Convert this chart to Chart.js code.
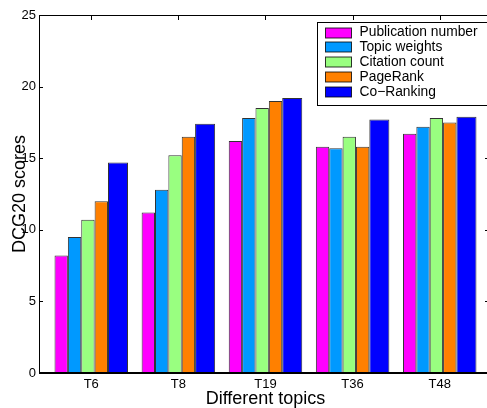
<!DOCTYPE html>
<html>
<head>
<meta charset="utf-8">
<script src="https://cdn.jsdelivr.net/npm/chart.js@4.4.0/dist/chart.umd.min.js"></script>
<style>
  html, body { margin: 0; padding: 0; background: #fff; overflow: hidden; }
  #wrap { width: 496px; height: 408px; }
</style>
</head>
<body>
<div id="wrap"><canvas id="chart" width="496" height="408"></canvas></div>
<script>
// data
var topics = ['T6', 'T8', 'T19', 'T36', 'T48'];
var pubNumber = [8.2, 11.2, 16.2, 15.8, 16.7];
var topicWeights = [9.5, 12.8, 17.8, 15.7, 17.2];
var citationCount = [10.7, 15.2, 18.5, 16.5, 17.8];
var pageRank = [12.0, 16.5, 19.0, 15.8, 17.5];
var coRanking = [14.7, 17.4, 19.2, 17.7, 17.9];
var seriesNames = ['Publication number', 'Topic weights', 'Citation count', 'PageRank', 'Co\u2212Ranking'];
var yTicks = [0, 5, 10, 15, 20, 25];

var colors = ['#ff00ff', '#0099ff', '#99ff80', '#ff8000', '#0000ff'];
var FONT = '"Liberation Sans", Arial, Helvetica, sans-serif';

// matlab-ish group: 4 narrow bars + a wider last one, group centred on the tick
var groupPct = 0.767;
var narrow = groupPct / 5;          // one narrow bar, in category units
var groupShift = narrow * 0.25;     // bars sit a quarter bar left of the tick

Chart.defaults.font.family = FONT;
Chart.defaults.color = '#000';

function toPoints(vals) {
    return vals.map(function(v, i) { return { x: i + 1, y: v }; });
}

var allSeries = [pubNumber, topicWeights, citationCount, pageRank, coRanking];
var datasets = allSeries.map(function(vals, k) {
    var last = k === allSeries.length - 1;
    return {
        label: seriesNames[k],
        data: toPoints(vals),
        backgroundColor: colors[k],
        borderColor: 'rgba(0,0,0,0.8)',
        borderWidth: 1,
        borderSkipped: 'start',
        categoryPercentage: last ? groupPct * 1.125 : groupPct,
        barPercentage: last ? 4 / 3 : 1
    };
});

// box, inward ticks and legend drawn like the matlab axes
var frame = {
    id: 'frame',
    afterDatasetsDraw: function(chart) {
        var ctx = chart.ctx, a = chart.chartArea;
        var xs = chart.scales.x, ys = chart.scales.y;
        ctx.save();
        ctx.strokeStyle = '#000';
        ctx.lineWidth = 1;
        ctx.beginPath();
        ctx.moveTo(a.left + 0.5, a.bottom);
        ctx.lineTo(a.left + 0.5, a.top + 0.5);
        ctx.lineTo(a.right + 0.5, a.top + 0.5);
        ctx.lineTo(a.right + 0.5, a.bottom);
        topics.forEach(function(t, i) {
            var px = Math.round(xs.getPixelForValue(i + 1 + groupShift)) + 0.5;
            ctx.moveTo(px, a.top);
            ctx.lineTo(px, a.top + 5);
        });
        yTicks.forEach(function(v) {
            var py = Math.round(ys.getPixelForValue(v)) + 0.5;
            ctx.moveTo(a.left, py);
            ctx.lineTo(a.left + 4, py);
            ctx.moveTo(a.right, py);
            ctx.lineTo(a.right - 7, py);
        });
        ctx.stroke();
        ctx.lineWidth = 2;
        ctx.beginPath();
        ctx.moveTo(a.left, a.bottom);
        ctx.lineTo(a.right + 1, a.bottom);
        ctx.stroke();
        ctx.restore();
    },
    afterDraw: function(chart) {
        var ctx = chart.ctx, a = chart.chartArea;
        ctx.save();
        ctx.font = '13.8px ' + FONT;
        var maxW = 0;
        seriesNames.forEach(function(n) { maxW = Math.max(maxW, ctx.measureText(n).width); });
        var sw = 26, sh = 10, rowH = 14.8;
        var w = 8 + sw + 8 + maxW + 10;
        var h = 83;
        var right = a.right - 5;
        var left = Math.round(right - w) + 0.5;
        var top = Math.round(a.top + 6.5) + 0.5;
        ctx.fillStyle = '#fff';
        ctx.fillRect(left, top, w, h);
        ctx.strokeStyle = '#000';
        ctx.lineWidth = 1;
        ctx.strokeRect(left, top, w, h);
        ctx.textBaseline = 'middle';
        ctx.textAlign = 'left';
        seriesNames.forEach(function(n, k) {
            var cy = top + 10 + k * rowH;
            ctx.fillStyle = colors[k];
            ctx.fillRect(left + 8, Math.round(cy - sh / 2), sw, sh);
            ctx.strokeStyle = 'rgba(0,0,0,0.8)';
            ctx.strokeRect(left + 8, Math.round(cy - sh / 2), sw, sh);
            ctx.fillStyle = '#000';
            ctx.fillText(n, left + 8 + sw + 8, cy);
        });
        ctx.restore();
    }
};

var ctxChart = document.getElementById('chart').getContext('2d');
var chart = new Chart(ctxChart, {
    type: 'bar',
    data: { datasets: datasets },
    options: {
        responsive: false,
        animation: false,
        layout: { padding: { top: 15, right: 4, left: 0, bottom: 0 } },
        plugins: {
            legend: { display: false },
            tooltip: { enabled: false }
        },
        scales: {
            x: {
                type: 'linear',
                offset: false,
                min: 0.4 + groupShift,
                max: 5.6 + groupShift,
                grid: { display: false, drawTicks: false, offset: false },
                border: { display: false },
                afterBuildTicks: function(scale) {
                    scale.ticks = topics.map(function(t, i) { return { value: i + 1 }; });
                },
                afterFit: function(scale) { scale.height = 35; },
                ticks: {
                    font: { size: 13 },
                    color: '#000',
                    padding: 4,
                    maxRotation: 0,
                    labelOffset: 3.3,
                    callback: function(v) { return topics[v - 1]; }
                },
                title: {
                    display: true,
                    text: 'Different topics',
                    font: { size: 18, lineHeight: 1 },
                    color: '#000',
                    padding: { top: 0, bottom: 0 }
                }
            },
            y: {
                min: 0,
                max: 25,
                grid: { display: false, drawTicks: false },
                border: { display: false },
                afterFit: function(scale) { scale.width = 39; },
                ticks: {
                    stepSize: 5,
                    font: { size: 13 },
                    color: '#000',
                    padding: 3
                },
                title: {
                    display: true,
                    text: 'DCG20 scores',
                    font: { size: 18, lineHeight: 1 },
                    color: '#000',
                    padding: { top: 11, bottom: 0 }
                }
            }
        }
    },
    plugins: [frame]
});
</script>
</body>
</html>
